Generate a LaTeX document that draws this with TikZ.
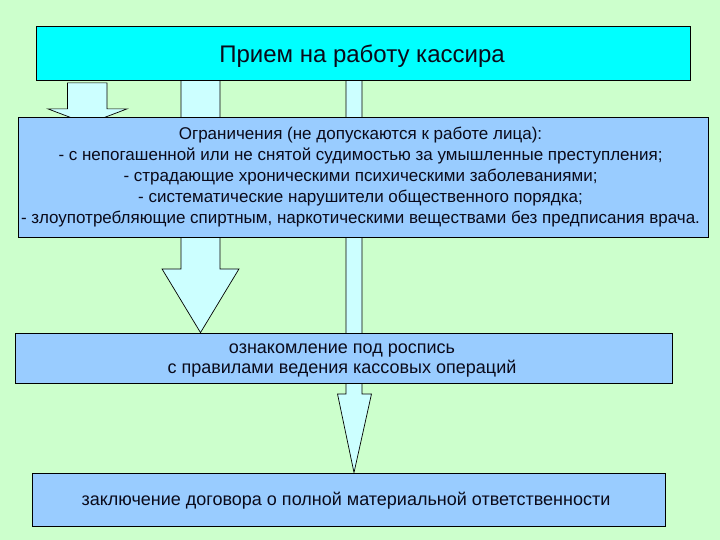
\documentclass[tikz,border=0pt]{standalone}
\usepackage{fontspec}
\setmainfont{Liberation Sans}
\usetikzlibrary{calc}
\pgfdeclarelayer{back}
\pgfdeclarelayer{bg}
\pgfsetlayers{back,bg,main}
\definecolor{pagebg}{HTML}{CCFFCC}
\definecolor{titlefill}{HTML}{00FFFF}
\definecolor{boxfill}{HTML}{99CCFF}
\definecolor{arrowfill}{HTML}{CCFFFF}
\definecolor{inktext}{HTML}{0A0A1A}
\tikzset{
  box/.style={draw=black, line width=0.8pt, rectangle, inner sep=0pt},
  txt/.style={inner sep=0pt, align=center, text=inktext, font=\fontsize{17}{21}\selectfont},
  blockarrow/.style={draw=black, line width=0.7pt, fill=arrowfill, line join=miter},
}
\begin{document}
\begin{tikzpicture}[x=1pt,y=-1pt]
\begin{pgfonlayer}{back}
\fill[pagebg] (0,0) rectangle (720,540);
\end{pgfonlayer}
\useasboundingbox (0,0) rectangle (720,540);
% boxes
\node[box, fill=titlefill, minimum width=654pt, minimum height=54pt] (hire) at (363,53.5) {};
\node[txt, font=\fontsize{24}{28}\selectfont] (hiretxt) at (362,56) {Прием на работу кассира};
\node[box, fill=boxfill, minimum width=690pt, minimum height=120pt] (lim) at (363,177) {};
\node[txt] (limtxt) at (360.5,177.5) {Ограничения (не допускаются к работе лица):\\
- с непогашенной или не снятой судимостью за умышленные преступления;\\
- страдающие хроническими психическими заболеваниями;\\
- систематические нарушители общественного порядка;\\
- злоупотребляющие спиртным, наркотическими веществами без предписания врача.};
\node[box, fill=boxfill, minimum width=657pt, minimum height=50pt] (fam) at (343.5,358) {};
\node[txt, font=\fontsize{18}{20}\selectfont] (famtxt) at (342,361) {ознакомление под роспись\\с правилами ведения кассовых операций};
\node[box, fill=boxfill, minimum width=633pt, minimum height=53pt] (contract) at (348.5,499.5) {};
\node[txt, font=\fontsize{18}{20}\selectfont] (contracttxt) at (346,501) {заключение договора о полной материальной ответственности};
% block arrows (behind boxes)
\begin{pgfonlayer}{bg}
\coordinate (la) at (87.5,0);
\draw[blockarrow] ($(la |- hire.south)+(-20,2)$) -- ($(la |- hire.south)+(-20,28)$) -- ($(la |- hire.south)+(-39.5,28)$) -- ($(la |- hire.south)+(0,43)$) -- ($(la |- hire.south)+(39.5,28)$) -- ($(la |- hire.south)+(19.5,28)$) -- ($(la |- hire.south)+(19.5,2)$) -- cycle;
\coordinate (ma) at (200.5,0);
\draw[blockarrow] ($(ma |- hire.south)+(-19.5,0)$) -- ($(ma |- hire.south)+(-19.5,188)$) -- ($(ma |- hire.south)+(-38.5,188)$) -- (ma |- fam.north) -- ($(ma |- hire.south)+(38.5,188)$) -- ($(ma |- hire.south)+(19.5,188)$) -- ($(ma |- hire.south)+(19.5,0)$);
\coordinate (ra) at (354,0);
\draw[blockarrow] ($(ra |- hire.south)+(-8,0)$) -- ($(ra |- hire.south)+(-8,313)$) -- ($(ra |- hire.south)+(-16.5,313)$) -- (ra |- contract.north) -- ($(ra |- hire.south)+(17.5,313)$) -- ($(ra |- hire.south)+(8,313)$) -- ($(ra |- hire.south)+(8,0)$);
\end{pgfonlayer}
\end{tikzpicture}
\end{document}
